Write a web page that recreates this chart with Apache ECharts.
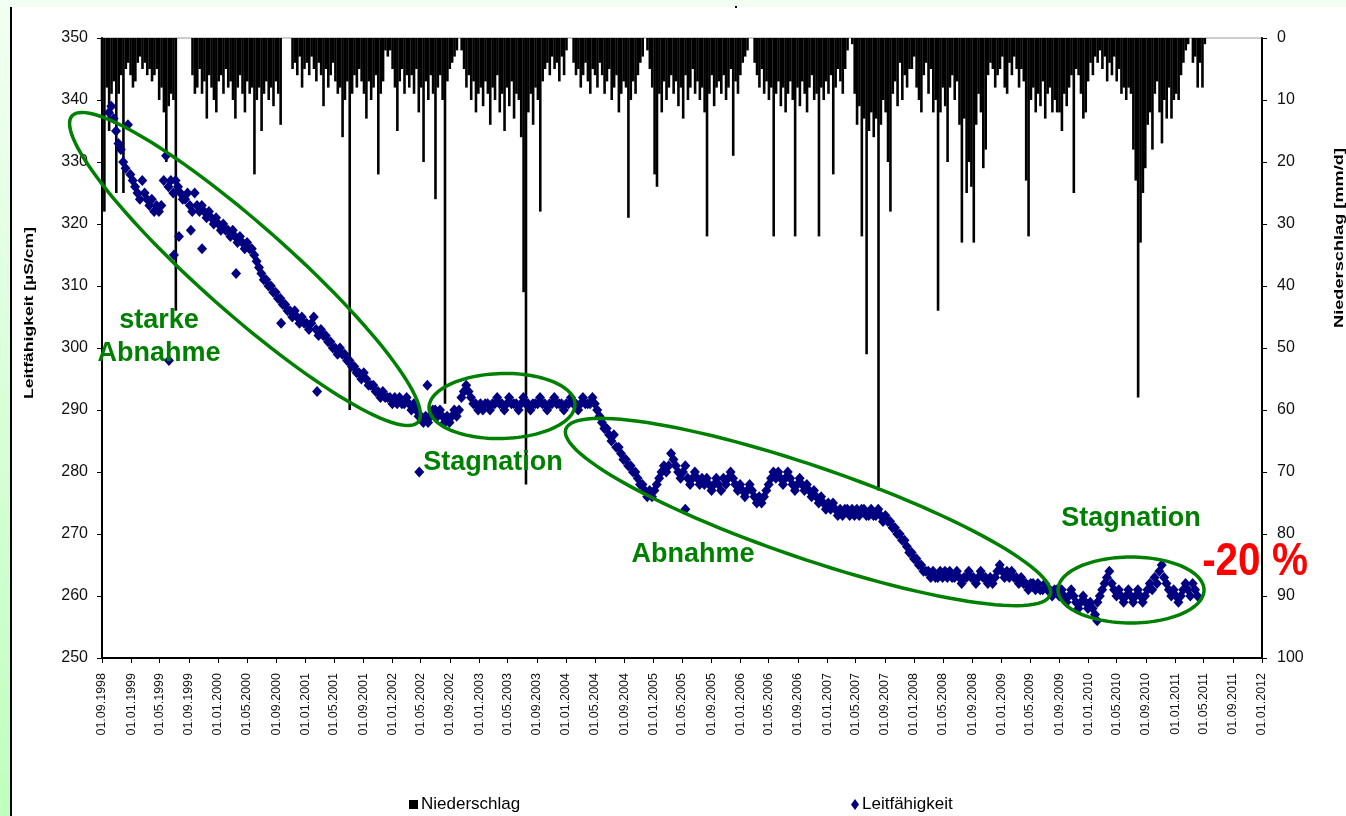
<!DOCTYPE html>
<html><head><meta charset="utf-8">
<script src="https://cdn.jsdelivr.net/npm/echarts@6.0.0/dist/echarts.min.js"></script>
<style>html,body{margin:0;padding:0;background:#fff;} #c{width:1346px;height:816px;}</style>
</head><body><div id="c"></div>
<script>
// ---- tick labels of the date axis ----
const tickLabels = ['01.09.1998','01.01.1999','01.05.1999','01.09.1999','01.01.2000','01.05.2000','01.09.2000',
 '01.01.2001','01.05.2001','01.09.2001','01.01.2002','01.05.2002','01.09.2002','01.01.2003','01.05.2003','01.09.2003',
 '01.01.2004','01.05.2004','01.09.2004','01.01.2005','01.05.2005','01.09.2005','01.01.2006','01.05.2006','01.09.2006',
 '01.01.2007','01.05.2007','01.09.2007','01.01.2008','01.05.2008','01.09.2008','01.01.2009','01.05.2009','01.09.2009',
 '01.01.2010','01.05.2010','01.09.2010','01.01.2011','01.05.2011','01.09.2011','01.01.2012'];
const leftTicks = [250,260,270,280,290,300,310,320,330,340,350];
const rightTicks = [0,10,20,30,40,50,60,70,80,90,100];

// ---- Niederschlag [mm/d], one value per 10-day block starting at rainStart ----
const rainStart = '1998-09-01';
const rainStepDays = 10;
const rain = [
 10,28,8,15,9,7,25,9,6,25,
 5,4,6,8,7,4,3,5,4,6,
 5,7,6,5,10,8,12,20,11,9,
 10,44,0,0,0,0,0,0,6,9,
 8,5,9,7,13,6,8,10,12,7,
 6,9,5,8,7,10,13,8,6,9,
 12,7,9,8,22,10,8,15,9,7,
 10,8,11,7,9,14,0,0,0,0,
 5,4,6,3,8,5,4,6,3,5,
 7,4,6,11,5,8,6,4,7,9,
 8,16,10,7,60,9,6,8,5,7,
 9,13,7,10,8,6,22,9,7,2,
 3,2,5,8,15,7,5,9,6,8,
 6,9,5,12,8,20,7,10,6,9,
 26,8,6,10,59,7,5,4,3,2,
 0,2,5,8,6,10,7,12,9,8,
 11,7,9,14,8,10,6,12,9,15,
 8,11,7,13,9,10,16,41,72,12,
 9,14,8,10,28,7,5,4,6,3,
 5,4,7,3,6,2,0,0,4,6,
 5,8,6,4,7,9,5,6,8,4,
 6,9,7,5,10,8,6,12,9,7,
 8,29,10,7,9,6,4,3,0,2,
 5,8,22,24,9,12,7,10,8,6,
 9,7,11,8,13,6,10,8,5,9,
 7,10,8,12,32,9,6,11,8,7,
 9,6,10,8,5,19,7,9,6,4,
 3,2,0,0,4,6,8,5,9,7,
 10,8,32,9,7,11,8,12,9,7,
 10,32,8,11,7,9,12,8,6,10,
 9,32,8,10,7,9,6,22,8,5,
 7,9,5,2,0,1,9,14,11,32,
 13,51,15,12,16,13,73,14,10,12,
 20,28,9,7,11,4,10,6,8,5,
 5,3,8,10,12,6,4,9,5,12,
 10,44,12,8,11,20,8,6,10,7,
 14,33,13,25,20,24,33,14,9,12,
 21,18,6,4,5,8,6,5,3,8,
 9,4,6,3,5,8,5,7,23,32,
 10,8,12,9,11,7,13,9,8,12,
 10,12,12,15,9,11,8,6,25,5,
 6,9,13,12,7,4,6,3,4,2,
 5,3,7,4,6,3,7,5,9,8,
 10,8,9,18,23,58,33,25,21,14,
 12,18,9,7,12,17,10,13,8,13,
 10,9,10,6,4,2,1,0,4,3,
 8,4,8,1
];

// ---- Leitfähigkeit [µS/cm], one value per 10 days starting at condStart ----
const condStart = '1998-09-30';
const condStepDays = 10;
const cond = [
 338,339,337,335,333,332,330,329,336,328,
 327,326,325,324,327,325,324,323,324,322,
 323,322,323,327,331,326,327,325,327,326,
 325,324,324,325,323,322,325,323,322,323,
 322,321,322,321,320,321,320,319,320,319,
 319,318,319,318,317,318,317,316,317,316,
 316,315,314,313,312,311,311,310,310,309,
 309,308,308,307,307,306,306,305,306,305,
 304,305,304,304,303,304,305,303,302,303,
 302,302,301,301,300,300,299,300,299,299,
 298,298,297,297,296,296,295,296,295,294,
 294,294,293,293,292,293,292,292,292,291,
 292,291,292,291,291,292,291,290,291,290,
 289,289,288,289,288,289,290,290,289,290,
 289,288,289,288,289,290,289,290,292,293,
 294,293,292,291,291,290,291,290,291,291,
 290,291,291,292,291,291,290,291,292,291,
 291,291,290,291,292,291,291,290,291,291,
 291,292,291,291,290,291,291,292,291,291,
 291,290,291,291,292,291,291,290,291,292,
 291,291,291,292,291,290,289,288,287,287,
 286,285,286,284,284,283,282,282,281,281,
 280,280,279,278,278,277,276,277,276,277,
 278,279,280,281,280,281,283,282,281,280,
 279,280,281,279,278,279,280,279,278,279,
 278,279,278,277,278,279,278,277,279,278,
 279,280,279,278,277,278,277,276,277,278,
 277,276,275,276,275,276,277,278,279,280,
 279,280,279,278,279,280,279,278,277,278,
 279,278,277,278,277,276,277,276,275,276,
 275,274,275,274,275,274,273,274,273,274,
 274,273,274,273,274,273,274,274,273,273,
 274,273,273,274,273,272,273,272,272,271,
 271,270,270,269,269,268,267,267,266,266,
 265,265,264,264,264,263,264,263,263,264,
 263,264,263,264,263,263,264,263,262,263,
 263,264,263,263,262,263,264,263,263,262,
 263,262,263,264,265,264,263,264,263,264,
 263,263,262,263,262,262,261,262,262,261,
 262,261,261,262,261,261,260,261,261,260,
 261,260,259,260,261,260,259,258,259,260,
 259,258,259,258,257,259,260,261,262,263,
 264,262,261,260,261,260,259,260,261,260,
 259,260,261,260,259,260,261,262,261,263,
 262,264,265,263,262,261,260,261,260,259,
 260,261,262,261,260,262,261,260
];
// single outlying measurements
const condOutlierDates = ['1999-06-09','1999-06-30','1999-07-21','1999-09-09','1999-10-26','2000-03-17',
 '2000-09-22','2001-02-20','2002-04-25','2002-05-29','2005-05-16','2010-02-08'];
const condOutlierValues = [298,315,318,319,316,312,304,293,280,294,274,256];

// ---------------- build ----------------
const DAY = 86400000;
function parseDE(s){ const p = s.split('.'); return Date.UTC(+p[2], +p[1]-1, +p[0]); }
const tickValues = tickLabels.map(parseDE);
const labelOf = {}; tickLabels.forEach((l,i)=>{ labelOf[tickValues[i]] = l; });
const r0 = Date.parse(rainStart), c0 = Date.parse(condStart);
const rainData = rain.map((v,i)=>[r0 + i*rainStepDays*DAY, v]);
const condData = cond.map((v,i)=>[c0 + i*condStepDays*DAY, v])
  .concat(condOutlierDates.map((d,i)=>[Date.parse(d), condOutlierValues[i]]));

function ellipse(cx, cy, a, b, deg){
  const r = deg*Math.PI/180, pts = [];
  for (let k=0;k<120;k++){ const t=k/120*2*Math.PI; const x=a*Math.cos(t), y=b*Math.sin(t);
    pts.push([cx + x*Math.cos(r) - y*Math.sin(r), cy + x*Math.sin(r) + y*Math.cos(r)]); }
  return pts;
}
const FONT = '"Liberation Sans", Arial, sans-serif';
const GREEN = '#008000';
function ell(cx,cy,a,b,deg){ return {type:'polygon', z:100, silent:true, shape:{points:ellipse(cx,cy,a,b,deg)},
  style:{fill:'none', stroke:GREEN, lineWidth:3.5}}; }
function gtext(x,y,text,size,color,extra){ return Object.assign({type:'text', z:110, silent:true, x:x, y:y,
  style:{text:text, fill:color, font:'bold '+size+'px '+FONT, align:'center', verticalAlign:'middle'}}, extra||{}); }

const chart = echarts.init(document.getElementById('c'), null, {renderer:'canvas'});
chart.setOption({
  animation:false,
  backgroundColor:'#ffffff',
  textStyle:{fontFamily:FONT},
  grid:{left:102, right:84, top:38, bottom:158, show:true, borderColor:'#9a9a9a', borderWidth:1, backgroundColor:'transparent'},
  legend:[
    {data:[{name:'Niederschlag', icon:'rect'}], left:404, top:791, itemWidth:9, itemHeight:9, selectedMode:false,
     textStyle:{fontSize:17, color:'#000', fontFamily:FONT, padding:[0,0,0,-2]}},
    {data:[{name:'Leitfähigkeit', icon:'diamond'}], left:846, top:791, itemWidth:8, itemHeight:11, selectedMode:false,
     textStyle:{fontSize:17, color:'#000', fontFamily:FONT, padding:[0,0,0,-2]}}
  ],
  xAxis:{type:'value', min:tickValues[0], max:tickValues[tickValues.length-1],
    axisLine:{show:true, onZero:false, lineStyle:{color:'#000', width:2}},
    axisTick:{show:true, length:5, customValues:tickValues, lineStyle:{color:'#000', width:1}},
    axisLabel:{show:true, rotate:90, fontSize:12.5, color:'#111', margin:15, customValues:tickValues,
      showMinLabel:true, showMaxLabel:true, formatter:(v)=>labelOf[v] || ''},
    splitLine:{show:false}},
  yAxis:[
    {type:'value', min:250, max:350, interval:10, position:'left',
     axisLine:{show:true, lineStyle:{color:'#000', width:2}},
     axisTick:{show:true, length:5, lineStyle:{color:'#000'}},
     axisLabel:{fontSize:16, color:'#111', margin:14, formatter:(v)=> leftTicks.indexOf(v)>=0 ? String(v) : ''},
     splitLine:{show:false}},
    {type:'value', min:0, max:100, interval:10, inverse:true, position:'right',
     axisLine:{show:true, lineStyle:{color:'#000', width:2}},
     axisTick:{show:true, length:5, lineStyle:{color:'#000'}},
     axisLabel:{fontSize:16, color:'#111', margin:15, formatter:(v)=> rightTicks.indexOf(v)>=0 ? String(v) : ''},
     splitLine:{show:false}}
  ],
  series:[
    {name:'Niederschlag', type:'bar', yAxisIndex:1, data:rainData, barWidth:2.6, itemStyle:{color:'#000'}, z:2, silent:true},
    {name:'Leitfähigkeit', type:'scatter', yAxisIndex:0, data:condData, symbol:'diamond', symbolSize:[10,11],
     itemStyle:{color:'#000080', opacity:1}, z:3, silent:true}
  ],
  graphic:[
    {type:'rect', z:-10, silent:true, shape:{x:0,y:0,width:1346,height:7}, style:{fill:'#f2fef2'}},
    {type:'rect', z:-10, silent:true, shape:{x:0,y:0,width:10,height:816},
     style:{fill:new echarts.graphic.LinearGradient(0,0,0,1,[{offset:0,color:'#f2fff2'},{offset:1,color:'#bfffbf'}])}},
    {type:'line', z:-5, silent:true, shape:{x1:11,y1:7,x2:11,y2:816}, style:{stroke:'#000', lineWidth:2}},
    {type:'rect', z:-5, silent:true, shape:{x:735,y:6,width:2,height:2}, style:{fill:'#000'}},
    {type:'text', z:50, silent:true, x:29, y:313, rotation:Math.PI/2, scaleX:1.35,
     style:{text:'Leitfähigkeit [µS/cm]', fill:'#000', font:'bold 13px '+FONT, align:'center', verticalAlign:'middle'}},
    {type:'text', z:50, silent:true, x:1339, y:238, rotation:Math.PI/2, scaleX:1.4,
     style:{text:'Niederschlag [mm/d]', fill:'#000', font:'bold 13px '+FONT, align:'center', verticalAlign:'middle'}},
    ell(245,269,231,44,41.5),
    ell(502,406,73,32.5,-1.5),
    ell(808,512,256,46,18.9),
    ell(1131,590,73,33,0),
    gtext(159,321,'starke',27,GREEN),
    gtext(159,354,'Abnahme',27,GREEN),
    gtext(493,463,'Stagnation',27,GREEN),
    gtext(693,555,'Abnahme',27,GREEN),
    gtext(1131,519,'Stagnation',27,GREEN),
    gtext(1255,562,'-20 %',46,'#ff0000',{scaleX:0.88})
  ]
});
</script></body></html>
